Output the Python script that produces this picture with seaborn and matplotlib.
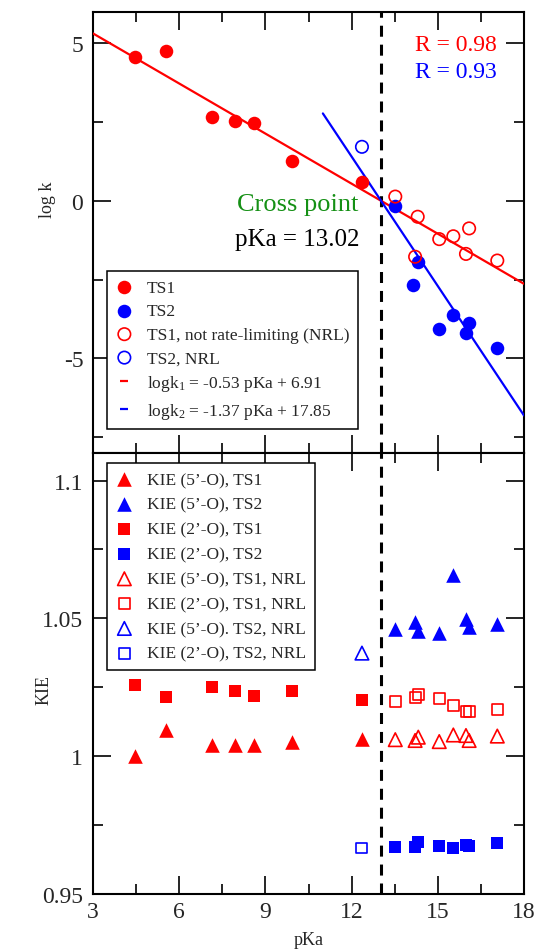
import numpy as np
import pandas as pd
import matplotlib
matplotlib.use("Agg")
import matplotlib.pyplot as plt
import seaborn as sns
from matplotlib.ticker import MultipleLocator, FuncFormatter
from matplotlib.lines import Line2D

# ---------------- data ----------------
# top panel: log k vs pKa
pka_ts1 = [4.46, 5.53, 7.14, 7.94, 8.59, 9.94, 12.36]
logk_ts1 = [4.56, 4.75, 2.68, 2.55, 2.48, 1.27, 0.61]
pka_ts2 = [13.52, 14.15, 14.32, 15.05, 15.54, 15.98, 16.09, 17.07]
logk_ts2 = [-0.15, -2.67, -1.95, -4.06, -3.61, -4.20, -3.87, -4.68]
pka_ts1_nrl = [13.52, 14.21, 14.30, 15.05, 15.54, 15.98, 16.09, 17.07]
logk_ts1_nrl = [0.14, -1.77, -0.50, -1.21, -1.12, -1.68, -0.87, -1.89]
pka_ts2_nrl = [12.36]
logk_ts2_nrl = [1.72]

# fits (from the legend equations) and their pKa ranges
fit1_slope, fit1_icpt, fit1_range = -0.53, 6.91, [3.0, 18.0]
fit2_slope, fit2_icpt, fit2_range = -1.37, 17.85, [11.0, 18.0]
cross_pka = 13.02

# bottom panel: KIE vs pKa
pka_low = [4.46, 5.53, 7.14, 7.94, 8.59, 9.94, 12.36]
pka_high = [13.52, 14.21, 14.32, 15.05, 15.54, 15.98, 16.09, 17.07]
kie5_ts1 = [1.0002, 1.0096, 1.0039, 1.0039, 1.0041, 1.0051, 1.0063]
kie2_ts1 = [1.0257, 1.0214, 1.0251, 1.0238, 1.0219, 1.0235, 1.0203]
kie5_ts2 = [1.0460, 1.0487, 1.0456, 1.0447, 1.0656, 1.0496, 1.0469, 1.0481]
kie2_ts2 = [0.9672, 0.9672, 0.9690, 0.9675, 0.9666, 0.9678, 0.9675, 0.9684]
kie5_ts1_nrl = [1.0060, 1.0057, 1.0069, 1.0053, 1.0077, 1.0075, 1.0057, 1.0073]
kie2_ts1_nrl = [1.0200, 1.0212, 1.0223, 1.0208, 1.0184, 1.0162, 1.0162, 1.0168]
pka_ts2_nrl_kie = [12.36]
kie5_ts2_nrl = [1.0374]
kie2_ts2_nrl = [0.9667]

# ---------------- style ----------------
sns.set_theme(style="white")
plt.rcParams["font.family"] = ["Liberation Serif", "DejaVu Serif"]
plt.rcParams["mathtext.fontset"] = "custom"
plt.rcParams["mathtext.rm"] = "Liberation Serif"
plt.rcParams["mathtext.it"] = "Liberation Serif:italic"
plt.rcParams["axes.unicode_minus"] = False

RED, BLUE, GREEN = "#ff0000", "#0000ff", "#159015"

fig = plt.figure(figsize=(5.4, 9.53), dpi=100)
ax1 = fig.add_axes([0.1722, 0.52361, 0.7982, 0.46275])
ax2 = fig.add_axes([0.1722, 0.06086, 0.7982, 0.46275])


def scat(ax, x, y, marker, color, s, filled, label):
    df = pd.DataFrame({"x": x, "y": y})
    if filled:
        sns.scatterplot(data=df, x="x", y="y", ax=ax, marker=marker, s=s,
                        color=color, linewidth=0, label=label, legend=False, zorder=4)
    else:
        sns.scatterplot(data=df, x="x", y="y", ax=ax, marker=marker, s=s,
                        facecolors="none", edgecolor=color, linewidth=1.2,
                        label=label, legend=False, zorder=4)
    return ax.collections[-1]


# ---- top panel ----
f1x = np.array(fit1_range)
f2x = np.array(fit2_range)
sns.lineplot(x=f1x, y=fit1_slope * f1x + fit1_icpt, ax=ax1, color=RED, lw=1.6, zorder=3)
sns.lineplot(x=f2x, y=fit2_slope * f2x + fit2_icpt, ax=ax1, color=BLUE, lw=1.6, zorder=3)

h1 = scat(ax1, pka_ts1, logk_ts1, "o", RED, 95, True, "TS1")
h2 = scat(ax1, pka_ts2, logk_ts2, "o", BLUE, 95, True, "TS2")
h3 = scat(ax1, pka_ts1_nrl, logk_ts1_nrl, "o", RED, 80, False, "TS1, not rate-limiting (NRL)")
h4 = scat(ax1, pka_ts2_nrl, logk_ts2_nrl, "o", BLUE, 80, False, "TS2, NRL")
h5 = Line2D([], [], ls="none", marker="_", color=RED, markersize=6, mew=1.6)
h6 = Line2D([], [], ls="none", marker="_", color=BLUE, markersize=6, mew=1.6)

leg1 = ax1.legend([h1, h2, h3, h4, h5, h6],
                  ["TS1", "TS2", "TS1, not rate-limiting (NRL)", "TS2, NRL",
                   "logk$_1$ = -0.53 pKa + 6.91", "logk$_2$ = -1.37 pKa + 17.85"],
                  loc="upper left", bbox_to_anchor=(0.0325, 0.4127), borderaxespad=0,
                  fontsize=12.5, handlelength=1.0, handletextpad=0.8, labelspacing=0.42,
                  borderpad=0.5, frameon=True, fancybox=False, framealpha=1,
                  edgecolor="black")
leg1.get_frame().set_linewidth(1.1)

ax1.text(17.06, 4.98, "R = 0.98", color=RED, fontsize=17, ha="right", va="center")
ax1.text(17.06, 4.10, "R = 0.93", color=BLUE, fontsize=17, ha="right", va="center")
ax1.text(8.0, -0.1, "Cross point", color=GREEN, fontsize=19, ha="left", va="center")
ax1.text(7.95, -1.22, "pKa = 13.02", color="black", fontsize=18, ha="left", va="center")

ax1.set_xlim(3, 18)
ax1.set_ylim(-8, 6)
ax1.yaxis.set_major_locator(MultipleLocator(5))
ax1.yaxis.set_minor_locator(MultipleLocator(2.5))
ax1.set_ylabel("log k", fontsize=13)
ax1.yaxis.set_label_coords(-0.085, 0.576)
ax1.set_xlabel("")
ax1.tick_params(axis="x", labelbottom=False)

# ---- bottom panel ----
g1 = scat(ax2, pka_low, kie5_ts1, "^", RED, 110, True, "KIE (5\u2019-O), TS1")
g2 = scat(ax2, pka_high, kie5_ts2, "^", BLUE, 110, True, "KIE (5\u2019-O), TS2")
g3 = scat(ax2, pka_low, kie2_ts1, "s", RED, 70, True, "KIE (2\u2019-O), TS1")
g4 = scat(ax2, pka_high, kie2_ts2, "s", BLUE, 70, True, "KIE (2\u2019-O), TS2")
g5 = scat(ax2, pka_high, kie5_ts1_nrl, "^", RED, 95, False, "KIE (5\u2019-O), TS1, NRL")
g6 = scat(ax2, pka_high, kie2_ts1_nrl, "s", RED, 62, False, "KIE (2\u2019-O), TS1, NRL")
g7 = scat(ax2, pka_ts2_nrl_kie, kie5_ts2_nrl, "^", BLUE, 95, False, "KIE (5\u2019-O). TS2, NRL")
g8 = scat(ax2, pka_ts2_nrl_kie, kie2_ts2_nrl, "s", BLUE, 62, False, "KIE (2\u2019-O), TS2, NRL")

leg2 = ax2.legend([g1, g2, g3, g4, g5, g6, g7, g8],
                  [g.get_label() for g in [g1, g2, g3, g4, g5, g6, g7, g8]],
                  loc="upper left", bbox_to_anchor=(0.0325, 0.977), borderaxespad=0,
                  fontsize=12.5, handlelength=1.0, handletextpad=0.8, labelspacing=0.5,
                  borderpad=0.5, frameon=True, fancybox=False, framealpha=1,
                  edgecolor="black")
leg2.get_frame().set_linewidth(1.1)

ax2.set_xlim(3, 18)
ax2.set_ylim(0.95, 1.11)
ax2.yaxis.set_major_locator(MultipleLocator(0.05))
ax2.yaxis.set_minor_locator(MultipleLocator(0.025))
ax2.yaxis.set_major_formatter(FuncFormatter(lambda v, p: f"{v:g}"))
ax2.set_ylabel("KIE", fontsize=13)
ax2.yaxis.set_label_coords(-0.095, 0.465)
ax2.set_xlabel("pKa", fontsize=13)
ax2.xaxis.set_label_coords(0.5, -0.085)

for ax in (ax1, ax2):
    ax.axvline(cross_pka, color="black", lw=2.2, dashes=(3.6, 2.6), zorder=2)
    ax.xaxis.set_major_locator(MultipleLocator(3))
    ax.xaxis.set_minor_locator(MultipleLocator(1.5))
    ax.tick_params(which="both", direction="in", top=True, right=True,
                   bottom=True, left=True, width=1.2, color="black")
    ax.tick_params(which="major", length=13, labelsize=17, pad=5)
    ax.tick_params(which="minor", length=7)
    ax.tick_params(axis="y", which="major", pad=7)
    for sp in ax.spines.values():
        sp.set_color("black")
        sp.set_linewidth(1.5)
    ax.set_facecolor("white")

fig.savefig("out.png", dpi=100)
